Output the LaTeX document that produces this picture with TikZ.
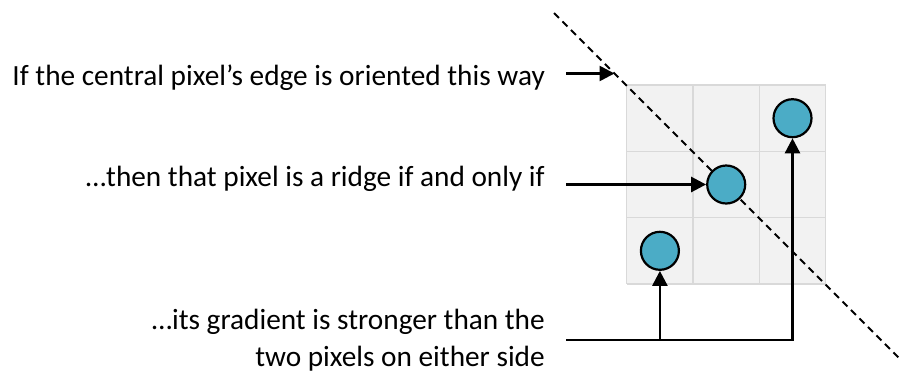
\documentclass[tikz,border=0pt]{standalone}
\usepackage{fontspec}
\setmainfont{Carlito}
\usepackage{tikz}
\usetikzlibrary{arrows.meta,positioning}
\definecolor{pixfill}{HTML}{F2F2F2}
\definecolor{pixline}{HTML}{D9D9D9}
\definecolor{ridge}{HTML}{4BACC6}

\begin{document}
\begin{tikzpicture}[
  x=1pt, y=-1pt,
  every node/.style = {font=\fontsize{29.3}{37}\selectfont, inner sep=0pt},
  txt/.style  = {anchor=base east, align=right},
  pix/.style  = {circle, draw=black, line width=2.2pt, fill=ridge, minimum size=38pt},
  arr/.style  = {-{Triangle[length=15pt,width=15pt]}, line width=2.6pt},
  orient/.style = {dashed, dash pattern=on 7pt off 5pt, line width=2pt}
]
\useasboundingbox (0,0) rectangle (902,376);

% 3x3 neighbourhood
\fill[pixfill] (626.7,85) rectangle (825.7,284);
\foreach \i in {0,1,2,3} {
  \draw[pixline, line width=1.5pt] (626.7+66.33*\i,85) -- (626.7+66.33*\i,284);
  \draw[pixline, line width=1.5pt] (626.7,85+66.33*\i) -- (825.7,85+66.33*\i);
}

% edge orientation
\coordinate (dtop) at (554,13);
\coordinate (dbot) at (900.7,359.7);
\coordinate (dhit) at (614.5,73.5);
\draw[orient] (dtop) -- (dbot);

\node[pix] (left)   at (659.9,250.8) {};
\node[pix] (centre) at (726.2,184.5) {};
\node[pix] (right)  at (792.5,118.2) {};

\node[txt] (orientTxt) at (545,85)    {If the central pixel’s edge is oriented this way};
\node[txt] (ridgeTxt)  at (545,186.7) {…then that pixel is a ridge if and only if};
\node[txt] (gradTxt)   at (545,366.5) {…its gradient is stronger than the\\two pixels on either side};

\coordinate (a1) at (566,73.5);
\coordinate (a2) at (566,184.5);
\coordinate (a3) at (566,340);

\draw[arr] (a1) -- (dhit);
\draw[arr] (a2) -- (centre);
\draw[arr, line join=miter] (a3) -| (right);
\draw[arr] (left |- a3) -- (left);
\end{tikzpicture}
\end{document}
